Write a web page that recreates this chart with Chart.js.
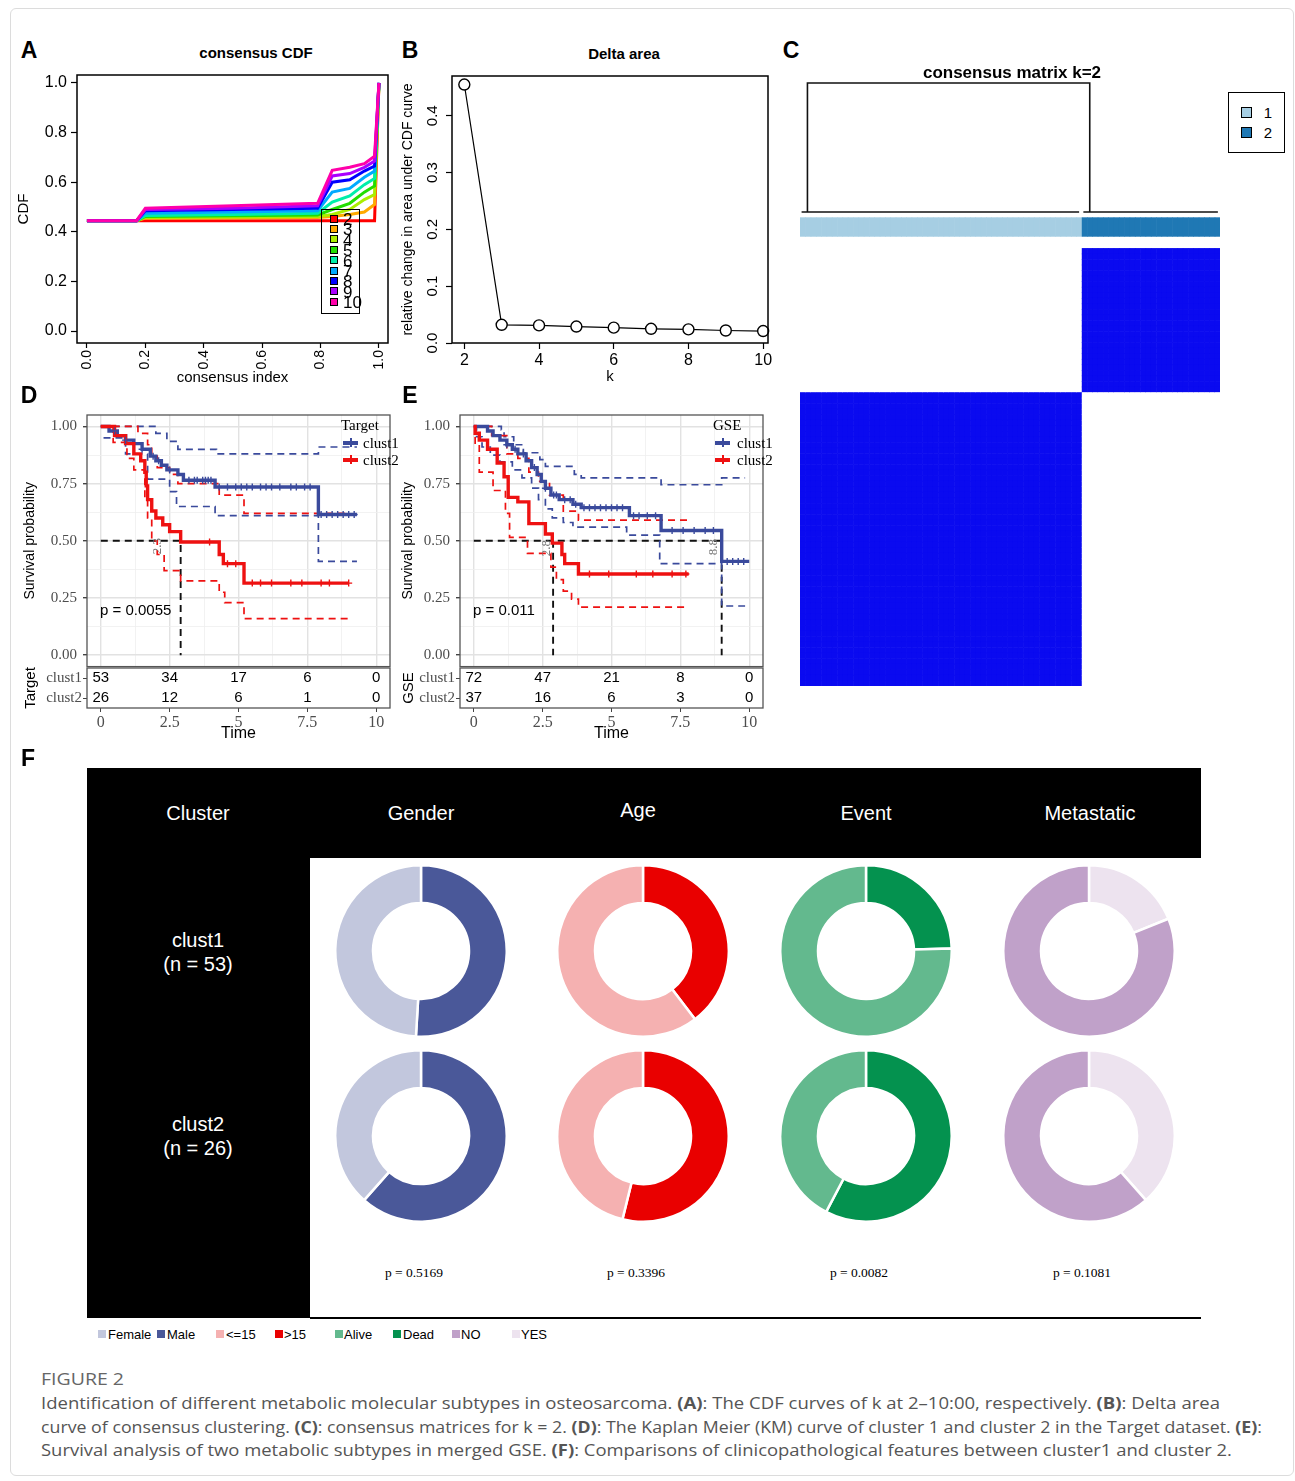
<!DOCTYPE html>
<html>
<head>
<meta charset="utf-8">
<title>Figure 2</title>
<script src="https://cdn.jsdelivr.net/npm/chart.js@4.4.1/dist/chart.umd.min.js"></script>
<style>
  html, body { margin: 0; padding: 0; background: #fff; }
  #page { position: relative; width: 1295px; height: 1481px; overflow: hidden; font-family: "Liberation Sans", Arial, sans-serif; color: #000; }
  #page canvas { position: absolute; }
  .t { position: absolute; white-space: nowrap; line-height: 1; }
  .frame { position: absolute; left: 10px; top: 8px; width: 1282px; height: 1466px; border: 1px solid #dcdcdc; border-radius: 6px; }
  .blk { position: absolute; background: #000; }
  .box { position: absolute; border: 1px solid #000; }
  .sq { position: absolute; }
</style>
</head>
<body>
<div id="page">
  <div class="frame"></div>
  <canvas id="cdf" width="380" height="324" style="left:15px;top:68px"></canvas>
  <canvas id="delta" width="380" height="324" style="left:395px;top:68px"></canvas>
  <canvas id="cons" width="420" height="607" style="left:800px;top:79px"></canvas>
  <canvas id="kmD" width="385" height="267" style="left:15px;top:405px"></canvas>
  <canvas id="riskD" width="385" height="84" style="left:15px;top:662px"></canvas>
  <canvas id="kmE" width="378" height="267" style="left:395px;top:405px"></canvas>
  <canvas id="riskE" width="378" height="84" style="left:395px;top:662px"></canvas>
</div>
<script>
// ---- A: consensus CDF ----
var cdfK = [2, 3, 4, 5, 6, 7, 8, 9, 10];
var cdfX = [0, 0.17, 0.2, 0.5, 0.79, 0.84, 0.9, 0.95, 0.985, 1.0];
var cdfY = [
  [0.445, 0.445, 0.445, 0.445, 0.445, 0.445, 0.445, 0.445, 0.445, 1.0],
  [0.445, 0.445, 0.455, 0.456, 0.458, 0.462, 0.47, 0.48, 0.51, 1.0],
  [0.445, 0.445, 0.458, 0.46, 0.462, 0.47, 0.49, 0.53, 0.55, 1.0],
  [0.445, 0.445, 0.462, 0.465, 0.468, 0.49, 0.515, 0.56, 0.585, 1.0],
  [0.445, 0.445, 0.466, 0.47, 0.475, 0.52, 0.545, 0.59, 0.615, 1.0],
  [0.445, 0.445, 0.475, 0.48, 0.485, 0.56, 0.575, 0.62, 0.645, 1.0],
  [0.445, 0.445, 0.485, 0.49, 0.495, 0.6, 0.61, 0.645, 0.665, 1.0],
  [0.445, 0.445, 0.49, 0.495, 0.505, 0.625, 0.635, 0.66, 0.685, 1.0],
  [0.445, 0.445, 0.495, 0.505, 0.515, 0.648, 0.66, 0.675, 0.705, 1.0]
];
var cdfColors = ['#ff0000', '#ffaa00', '#aaee00', '#22dd00', '#00eeaa', '#00aaff', '#0000ff', '#aa00ff', '#ff00aa'];
var cdfXTicks = [0, 0.2, 0.4, 0.6, 0.8, 1.0];

// ---- B: delta area ----
var deltaK = [2, 3, 4, 5, 6, 7, 8, 9, 10];
var deltaVal = [0.455, 0.032, 0.031, 0.029, 0.027, 0.025, 0.024, 0.022, 0.021];
var deltaXTicks = [2, 4, 6, 8, 10];
var deltaYTicks = [0, 0.1, 0.2, 0.3, 0.4];

// ---- C: consensus matrix k=2 ----
var clusterSizes = [53, 26];
var consensusBlock = [[1, 0], [0, 1]];
var clusterColors = ['#a6cee3', '#1f78b4'];
var dendroLinks = [
  [[1.4, 0], [1.4, 1], [54.5, 1], [54.5, 0]],
  [[0.3, 0], [52.5, 0]],
  [[53.3, 0], [78.6, 0]]
];

// ---- D: Target KM ----
var tgtC1 = [[0,1],[0.3,0.98],[0.6,0.96],[0.9,0.94],[1.2,0.925],[1.5,0.9],[1.8,0.87],[2.0,0.85],[2.2,0.83],[2.4,0.81],[2.8,0.79],[3.0,0.765],[4.15,0.735],[7.9,0.615],[9.3,0.615]];
var tgtC1Up = [[0,1],[2.0,0.97],[2.4,0.935],[2.8,0.9],[4.2,0.88],[7.9,0.91],[9.3,0.91]];
var tgtC1Lo = [[0.1,0.95],[0.9,0.88],[1.7,0.77],[2.5,0.715],[2.75,0.65],[4.15,0.61],[7.9,0.41],[9.3,0.41]];
var tgtC2 = [[0,1],[0.5,0.96],[0.9,0.925],[1.2,0.88],[1.45,0.85],[1.6,0.8],[1.65,0.74],[1.7,0.68],[1.85,0.63],[2.0,0.6],[2.25,0.57],[2.5,0.54],[2.9,0.495],[4.3,0.44],[4.45,0.4],[5.2,0.315],[9.0,0.315]];
var tgtC2Up = [[0,1],[1.35,0.97],[1.7,0.92],[1.85,0.87],[2.05,0.82],[2.5,0.79],[2.8,0.75],[4.3,0.7],[5.2,0.62],[9.0,0.62]];
var tgtC2Lo = [[0,1],[0.45,0.93],[0.95,0.86],[1.2,0.81],[1.6,0.68],[1.7,0.6],[1.85,0.5],[2.05,0.44],[2.3,0.37],[2.9,0.325],[4.3,0.275],[4.5,0.23],[5.2,0.16],[9.0,0.16]];
var tgtCens1 = [0.5,0.9,1.5,1.9,2.1,2.5,3.2,3.4,3.5,3.7,3.8,3.9,4.0,4.3,4.6,4.9,5.1,5.3,5.5,5.8,6.0,6.2,6.5,6.9,7.1,7.4,7.6,8.0,8.2,8.4,8.6,8.8,9.0,9.2];
var tgtCens2 = [3.95,4.6,4.9,5.5,5.8,6.2,6.9,7.3,8.0,8.3,9.0];
var tgtMedian = [[[0,0.5],[2.9,0.5],[2.9,0]]];
var tgtRisk1 = [53, 34, 17, 6, 0];
var tgtRisk2 = [26, 12, 6, 1, 0];

// ---- E: GSE KM ----
var gseC1 = [[0,1],[0.5,0.98],[0.7,0.96],[0.95,0.94],[1.2,0.92],[1.4,0.9],[1.6,0.88],[1.9,0.85],[2.1,0.82],[2.3,0.79],[2.45,0.76],[2.6,0.73],[2.8,0.7],[3.1,0.68],[3.6,0.66],[3.9,0.645],[5.65,0.61],[6.8,0.545],[9.0,0.41],[10.0,0.41]];
var gseC1Up = [[0,1],[1.0,0.985],[1.1,0.955],[1.45,0.92],[1.8,0.885],[2.4,0.855],[2.6,0.825],[3.65,0.79],[3.9,0.775],[6.8,0.745],[9.0,0.775],[9.85,0.775]];
var gseC1Lo = [[0,1],[0.1,0.955],[0.3,0.91],[0.6,0.875],[0.95,0.845],[1.4,0.81],[1.75,0.775],[2.1,0.73],[2.35,0.68],[2.6,0.64],[2.85,0.6],[3.25,0.58],[3.6,0.56],[5.55,0.525],[6.75,0.4],[9.0,0.215],[9.85,0.215]];
var gseC2 = [[0,1],[0.05,0.97],[0.2,0.94],[0.5,0.9],[0.85,0.84],[1.1,0.78],[1.25,0.69],[1.6,0.67],[2.0,0.575],[2.6,0.53],[2.85,0.49],[3.2,0.44],[3.3,0.4],[3.8,0.355],[7.8,0.355]];
var gseC2Up = [[0,1],[0.65,0.96],[1.2,0.88],[1.6,0.86],[2.0,0.8],[2.35,0.76],[2.75,0.7],[3.25,0.63],[3.8,0.59],[7.8,0.59]];
var gseC2Lo = [[0,1],[0.05,0.92],[0.2,0.8],[0.7,0.72],[1.15,0.62],[1.3,0.515],[1.95,0.445],[2.8,0.385],[3.0,0.33],[3.25,0.28],[3.55,0.245],[3.8,0.21],[7.7,0.21]];
var gseCens1 = [1.2,1.5,1.8,2.2,2.6,2.9,3.0,3.3,3.5,3.7,4.0,4.2,4.4,4.6,4.8,5.0,5.2,5.4,5.8,6.0,6.3,6.6,7.2,7.6,8.0,8.4,8.7,9.2,9.4,9.6,9.8];
var gseCens2 = [4.2,4.9,5.9,6.5,7.2,7.7];
var gseMedian = [[[0,0.5],[9.0,0.5]], [[2.88,0.5],[2.88,0]], [[9.0,0.5],[9.0,0]]];
var gseRisk1 = [72, 47, 21, 8, 0];
var gseRisk2 = [37, 16, 6, 3, 0];

var riskTimes = [0, 2.5, 5, 7.5, 10];
var riskRows = ['clust1', 'clust2'];
var kmXTicks = [0, 1.25, 2.5, 3.75, 5, 6.25, 7.5, 8.75, 10];
var kmYTicks = [0, 0.125, 0.25, 0.375, 0.5, 0.625, 0.75, 0.875, 1];

// ---- F: clinical features ----
var featNames = ['Gender', 'Age', 'Event', 'Metastatic'];
var featLevels = [['Female', 'Male'], ['<=15', '>15'], ['Alive', 'Dead'], ['NO', 'YES']];
var featClust1 = [[26, 27], [32, 21], [40, 13], [43, 10]];
var featClust2 = [[10, 16], [12, 14], [11, 15], [16, 10]];
var featColors = [['#c2c7dd', '#4a5899'], ['#f5b1b1', '#e90000'], ['#63b98e', '#04924f'], ['#c0a1c9', '#ede3ef']];
var featP = ['0.5169', '0.3396', '0.0082', '0.1081'];

var KM_BLUE = '#3a4a9c', KM_RED = '#ee1111';
var SANS = '"Liberation Sans", Arial, sans-serif';
var SERIF = '"Liberation Serif", "Times New Roman", serif';

Chart.defaults.animation = false;
Chart.defaults.responsive = false;
Chart.defaults.events = [];
Chart.defaults.color = '#000';
Chart.defaults.font.family = SANS;
Chart.defaults.plugins.legend.display = false;
Chart.defaults.plugins.tooltip.enabled = false;

var page = document.getElementById('page');

// box around the plotting area
var framePlugin = {
  id: 'frame',
  afterDraw: function (chart, args, opts) {
    if (!opts || !opts.color) return;
    var a = chart.chartArea, ctx = chart.ctx;
    ctx.save();
    ctx.strokeStyle = opts.color;
    ctx.lineWidth = opts.width || 1;
    ctx.strokeRect(a.left, a.top, a.right - a.left, a.bottom - a.top);
    ctx.restore();
  }
};
Chart.register(framePlugin);

function setTicks(values) {
  return function (scale) { scale.ticks = values.map(function (v) { return { value: v }; }); };
}
// fixed axis sizes, and no extra room for labels that stick out
function fixW(w) { return function (s) { s.width = w; s.paddingTop = 0; s.paddingBottom = 0; }; }
function fixH(h) { return function (s) { s.height = h; s.paddingLeft = 0; s.paddingRight = 0; }; }
function pts(arr) { return arr.map(function (p) { return { x: p[0], y: p[1] }; }); }
function survAt(curve, t) {
  var s = curve[0][1];
  curve.forEach(function (p) { if (p[0] <= t) s = p[1]; });
  return s;
}

function txt(s, x, y, o) {
  o = o || {};
  var d = document.createElement('div');
  d.className = 't';
  d.innerHTML = s;
  d.style.left = x + 'px';
  d.style.top = y + 'px';
  d.style.fontSize = (o.size || 15) + 'px';
  if (o.weight) d.style.fontWeight = o.weight;
  if (o.family) d.style.fontFamily = o.family;
  if (o.color) d.style.color = o.color;
  var ax = o.anchor === 'l' ? '0' : (o.anchor === 'r' ? '-100%' : '-50%');
  d.style.transform = 'translate(' + ax + ',-50%)' + (o.rot ? ' rotate(' + o.rot + 'deg)' : '');
  page.appendChild(d);
  return d;
}
function rect(cls, x, y, w, h, css) {
  var d = document.createElement('div');
  d.className = cls;
  d.style.left = x + 'px'; d.style.top = y + 'px';
  d.style.width = w + 'px'; d.style.height = h + 'px';
  if (css) Object.assign(d.style, css);
  page.appendChild(d);
  return d;
}

// ================= A =================
var cdfSets = cdfK.map(function (k, i) {
  return {
    label: String(k),
    data: cdfX.map(function (x, j) { return { x: x, y: cdfY[i][j] }; }),
    borderColor: cdfColors[i], borderWidth: 3, pointRadius: 0, tension: 0
  };
}).reverse();

new Chart(document.getElementById('cdf'), {
  type: 'line',
  data: { datasets: cdfSets },
  options: {
    layout: { padding: { top: 7, right: 7, left: 0, bottom: 0 } },
    plugins: { frame: { color: '#000', width: 1.5 } },
    scales: {
      x: {
        type: 'linear', min: -0.034, max: 1.031,
        afterBuildTicks: setTicks(cdfXTicks), afterFit: fixH(49),
        border: { display: false },
        grid: { drawOnChartArea: false, tickLength: 5, color: '#000', tickWidth: 1.2 },
        ticks: { minRotation: 90, maxRotation: 90, padding: 2, font: { size: 14 }, callback: function (v) { return v.toFixed(1); } },
        title: { display: true, text: 'consensus index', font: { size: 15 }, padding: { top: 0, bottom: 5 } }
      },
      y: {
        min: -0.048, max: 1.032,
        afterBuildTicks: setTicks(cdfXTicks), afterFit: fixW(62),
        border: { display: false },
        grid: { drawOnChartArea: false, tickLength: 6, color: '#000', tickWidth: 1.2 },
        ticks: { padding: 4, font: { size: 16 }, callback: function (v) { return v.toFixed(1); } },
        title: { display: true, text: 'CDF', font: { size: 15 }, padding: { top: 0, bottom: 0 } }
      }
    }
  }
});

// ================= B =================
var rotYTicks = {
  id: 'rotYTicks',
  afterDraw: function (chart) {
    var s = chart.scales.y, ctx = chart.ctx;
    ctx.save();
    ctx.font = '15px ' + SANS;
    ctx.fillStyle = '#000';
    ctx.textAlign = 'center';
    ctx.textBaseline = 'middle';
    s.ticks.forEach(function (t) {
      var py = s.getPixelForValue(t.value);
      ctx.save();
      ctx.translate(s.right - 19, py);
      ctx.rotate(-Math.PI / 2);
      ctx.fillText(t.value.toFixed(1), 0, 0);
      ctx.restore();
    });
    ctx.restore();
  }
};

new Chart(document.getElementById('delta'), {
  type: 'line',
  data: {
    datasets: [{
      data: deltaK.map(function (k, i) { return { x: k, y: deltaVal[i] }; }),
      borderColor: '#000', borderWidth: 1.2, tension: 0,
      pointRadius: 5.5, pointBackgroundColor: '#fff', pointBorderColor: '#000', pointBorderWidth: 1.4,
      clip: 8
    }]
  },
  plugins: [rotYTicks],
  options: {
    layout: { padding: { top: 8, right: 7, left: 0, bottom: 0 } },
    plugins: { frame: { color: '#000', width: 1.5 } },
    scales: {
      x: {
        type: 'linear', min: 1.67, max: 10.13,
        afterBuildTicks: setTicks(deltaXTicks), afterFit: fixH(49),
        border: { display: false },
        grid: { drawOnChartArea: false, tickLength: 6, color: '#000', tickWidth: 1.2 },
        ticks: { padding: 2, font: { size: 16 }, callback: function (v) { return String(v); } },
        title: { display: true, text: 'k', font: { size: 15 }, padding: { top: 0, bottom: 6 } }
      },
      y: {
        min: 0, max: 0.47,
        afterBuildTicks: setTicks(deltaYTicks), afterFit: fixW(57),
        border: { display: false },
        grid: { drawOnChartArea: false, tickLength: 6, color: '#000', tickWidth: 1.2 },
        ticks: { display: false },
        title: { display: true, text: 'relative change in area under CDF curve', font: { size: 14 }, padding: { top: 5, bottom: 0 } }
      }
    }
  }
});

// ================= C =================
var colOrder = [];
clusterSizes.forEach(function (n, ci) { for (var i = 0; i < n; i++) colOrder.push(ci); });
var rowOrder = colOrder.slice().reverse();   // image() draws rows bottom-up

function blueRamp(v) {
  var r = Math.round(255 - v * (255 - 10)), g = Math.round(255 - v * (255 - 10)), b = Math.round(255 - v * (255 - 240));
  return 'rgb(' + r + ',' + g + ',' + b + ')';
}

var consPlugin = {
  id: 'consCells',
  beforeDatasetsDraw: function (chart) {
    var xs = chart.scales.x, ys = chart.scales.y, ctx = chart.ctx;
    ctx.save();
    var barTop = ys.getPixelForValue(-5.55), barBot = ys.getPixelForValue(-2.05);
    colOrder.forEach(function (cl, c) {
      var x0 = xs.getPixelForValue(c), x1 = xs.getPixelForValue(c + 1);
      ctx.fillStyle = clusterColors[cl];
      ctx.fillRect(x0, barTop, x1 - x0 + 0.6, barBot - barTop);
      rowOrder.forEach(function (rl, r) {
        var y0 = ys.getPixelForValue(r), y1 = ys.getPixelForValue(r + 1);
        ctx.fillStyle = blueRamp(consensusBlock[rl][cl]);
        ctx.fillRect(x0, y0, x1 - x0 + 0.6, y1 - y0 + 0.6);
      });
    });
    ctx.restore();
  }
};

new Chart(document.getElementById('cons'), {
  type: 'line',
  data: {
    datasets: dendroLinks.map(function (seg) {
      return { data: pts(seg), yAxisID: 'yd', borderColor: '#111', borderWidth: 1.6, pointRadius: 0, tension: 0 };
    })
  },
  plugins: [consPlugin],
  options: {
    layout: { padding: 0 },
    scales: {
      x: { type: 'linear', min: 0, max: 79, display: false },
      y: { type: 'linear', min: -30.5, max: 79, reverse: true, display: false },
      yd: { type: 'linear', min: -3.674, max: 1.031, display: false }
    }
  }
});

// ================= D / E =================
function kmChart(id, c1, c1Up, c1Lo, c2, c2Up, c2Lo, cens1, cens2, medians, yWidth, padRight, titlePad) {
  var ds = [];
  ds.push({ data: cens2.map(function (t) { return { x: t, y: survAt(c2, t) }; }), showLine: false, pointStyle: 'cross', pointRadius: 3.5, pointBorderWidth: 1.4, pointBorderColor: KM_RED });
  ds.push({ data: cens1.map(function (t) { return { x: t, y: survAt(c1, t) }; }), showLine: false, pointStyle: 'cross', pointRadius: 3.5, pointBorderWidth: 1.4, pointBorderColor: KM_BLUE });
  ds.push({ data: pts(c2), borderColor: KM_RED, borderWidth: 3.4, stepped: 'before', pointRadius: 0 });
  ds.push({ data: pts(c1), borderColor: KM_BLUE, borderWidth: 3.4, stepped: 'before', pointRadius: 0 });
  [[c2Up, KM_RED], [c2Lo, KM_RED], [c1Up, KM_BLUE], [c1Lo, KM_BLUE]].forEach(function (p) {
    ds.push({ data: pts(p[0]), borderColor: p[1], borderWidth: 1.7, borderDash: [7, 5], stepped: 'before', pointRadius: 0 });
  });
  medians.forEach(function (m) {
    ds.push({ data: pts(m), borderColor: '#111', borderWidth: 1.9, borderDash: [7, 5], pointRadius: 0 });
  });
  return new Chart(document.getElementById(id), {
    type: 'line',
    data: { datasets: ds },
    options: {
      layout: { padding: { top: 10, right: padRight, left: 0, bottom: 0 } },
      plugins: { frame: { color: '#555', width: 1.3 } },
      scales: {
        x: {
          type: 'linear', min: -0.5, max: 10.5,
          afterBuildTicks: setTicks(kmXTicks), afterFit: fixH(0),
          border: { display: false },
          grid: {
            drawTicks: false,
            color: function (c) { return c.tick && c.tick.value % 2.5 === 0 ? '#e2e2e2' : '#efefef'; },
            lineWidth: function (c) { return c.tick && c.tick.value % 2.5 === 0 ? 1.4 : 0.8; }
          },
          ticks: { display: false }
        },
        y: {
          min: -0.05, max: 1.05,
          afterBuildTicks: setTicks(kmYTicks), afterFit: fixW(yWidth),
          border: { display: false },
          grid: {
            tickLength: 4,
            color: function (c) { return c.tick && c.tick.value % 0.25 === 0 ? '#e2e2e2' : '#efefef'; },
            lineWidth: function (c) { return c.tick && c.tick.value % 0.25 === 0 ? 1.4 : 0.8; },
            tickColor: function (c) { return c.tick && c.tick.value % 0.25 === 0 ? '#444' : 'rgba(0,0,0,0)'; }
          },
          ticks: { padding: 6, color: '#4d4d4d', font: { family: SERIF, size: 15 }, callback: function (v) { return v % 0.25 === 0 ? v.toFixed(2) : ''; } },
          title: { display: true, text: 'Survival probability', font: { size: 14 }, padding: { top: titlePad, bottom: 0 } }
        }
      }
    }
  });
}

var riskText = {
  id: 'riskText',
  afterDatasetsDraw: function (chart) {
    var ctx = chart.ctx;
    ctx.save();
    ctx.font = '15px ' + SANS;
    ctx.fillStyle = '#000';
    ctx.textAlign = 'center';
    ctx.textBaseline = 'middle';
    chart.data.datasets.forEach(function (ds, i) {
      chart.getDatasetMeta(i).data.forEach(function (el, j) { ctx.fillText(String(ds.data[j].n), el.x, el.y); });
    });
    ctx.restore();
  }
};

function riskChart(id, title, r1, r2, yWidth, padRight, titlePad) {
  var rows = [r1, r2];
  return new Chart(document.getElementById(id), {
    type: 'line',
    data: {
      datasets: rows.map(function (r, ri) {
        return { data: riskTimes.map(function (t, j) { return { x: t, y: riskRows[ri], n: r[j] }; }), showLine: false, pointRadius: 0 };
      })
    },
    plugins: [riskText],
    options: {
      layout: { padding: { top: 6, right: padRight, left: 0, bottom: 0 } },
      plugins: { frame: { color: '#555', width: 1.3 } },
      scales: {
        x: {
          type: 'linear', min: -0.5, max: 10.5,
          afterBuildTicks: setTicks(riskTimes), afterFit: fixH(38),
          border: { display: false },
          grid: { drawOnChartArea: false, tickLength: 4, color: '#444' },
          ticks: { padding: 1, color: '#4d4d4d', font: { family: SERIF, size: 16 }, callback: function (v) { return String(v); } },
          title: { display: true, text: 'Time', font: { size: 16 }, padding: { top: 0, bottom: 3 } }
        },
        y: {
          type: 'category', labels: riskRows, offset: true, afterFit: fixW(yWidth),
          border: { display: false },
          grid: { drawOnChartArea: false, tickLength: 4, color: '#444' },
          ticks: { autoSkip: false, padding: 1, color: '#4d4d4d', font: { family: SERIF, size: 15 } },
          title: { display: true, text: title, font: { size: 15 }, padding: { top: titlePad, bottom: 0 } }
        }
      }
    }
  });
}

kmChart('kmD', tgtC1, tgtC1Up, tgtC1Lo, tgtC2, tgtC2Up, tgtC2Lo, tgtCens1, tgtCens2, tgtMedian, 72, 10, 7);
riskChart('riskD', 'Target', tgtRisk1, tgtRisk2, 72, 10, 7);
kmChart('kmE', gseC1, gseC1Up, gseC1Lo, gseC2, gseC2Up, gseC2Lo, gseCens1, gseCens2, gseMedian, 65, 10, 5);
riskChart('riskE', 'GSE', gseRisk1, gseRisk2, 65, 10, 5);

// ================= F =================
rect('blk', 87, 768, 1114, 90);
rect('blk', 87, 858, 223, 460);
rect('blk', 310, 1317, 891, 1.5);

var donutCx = [421, 643, 866, 1089];
var donutCy = [951, 1136];
featNames.forEach(function (name, fi) {
  [featClust1[fi], featClust2[fi]].forEach(function (counts, ri) {
    var cv = document.createElement('canvas');
    cv.width = 174; cv.height = 174;
    cv.style.left = (donutCx[fi] - 87) + 'px';
    cv.style.top = (donutCy[ri] - 87) + 'px';
    page.appendChild(cv);
    new Chart(cv, {
      type: 'doughnut',
      data: {
        labels: featLevels[fi].slice().reverse(),
        datasets: [{
          data: counts.slice().reverse(),
          backgroundColor: featColors[fi].slice().reverse(),
          borderColor: '#fff', borderWidth: 2.5
        }]
      },
      options: { cutout: '56%', layout: { padding: 0 } }
    });
  });
  txt('p = ' + featP[fi], donutCx[fi] - 7, 1273, { family: SERIF, size: 13.5 });
});

// ================= text =================
var L = { size: 23, weight: 'bold' };
txt('A', 29, 50, L); txt('B', 410, 50, L); txt('C', 791, 50, L);
txt('D', 29, 395, L); txt('E', 410, 395, L); txt('F', 28, 758, L);

txt('consensus CDF', 256, 52, { size: 15, weight: 'bold' });
txt('Delta area', 624, 53, { size: 15, weight: 'bold' });
txt('consensus matrix k=2', 1012, 72, { size: 17, weight: 'bold' });

// A legend
rect('box', 321, 209, 37, 103);
cdfK.forEach(function (k, i) {
  var y = 218 + i * 10.4;
  rect('sq', 330, y - 3.5, 6, 6, { background: cdfColors[i], border: '1px solid #000' });
  txt(String(k), 343, y + 1, { size: 17, anchor: 'l' });
});

// C legend
rect('box', 1228, 92, 55, 59);
clusterColors.forEach(function (c, i) {
  var y = 112 + i * 20;
  rect('sq', 1241, y - 5, 9, 9, { background: c, border: '1px solid #000' });
  txt(String(i + 1), 1268, y, { size: 15 });
});

// KM legends
function kmLegend(title, x, tx) {
  txt(title, x, 425, { family: SERIF, size: 15, anchor: 'l' });
  [[KM_BLUE, 'clust1', 443], [KM_RED, 'clust2', 460]].forEach(function (r) {
    rect('sq', x + 2, r[2] - 2, 15, 4, { background: r[0] });
    rect('sq', x + 9, r[2] - 5, 1.5, 9, { background: r[0] });
    txt(r[1], tx, r[2], { family: SERIF, size: 15, anchor: 'l' });
  });
}
kmLegend('Target', 341, 363);
kmLegend('GSE', 713, 737);

txt('p = 0.0055', 100, 609, { size: 15, anchor: 'l' });
txt('p = 0.011', 473, 609, { size: 15, anchor: 'l' });
txt('2.3', 156, 546, { family: SERIF, size: 13, color: '#777', rot: -90 });
txt('2.8', 545, 548, { family: SERIF, size: 13, color: '#777', rot: -90 });
txt('8.8', 712, 547, { family: SERIF, size: 13, color: '#777', rot: -90 });

// F headers
var hdrX = [421, 638, 866, 1090];
txt('Cluster', 198, 813, { size: 20, color: '#fff' });
featNames.forEach(function (n, i) { txt(n, hdrX[i], i === 1 ? 810 : 813, { size: 20, color: '#fff' }); });
txt('clust1', 198, 940, { size: 20, color: '#fff' });
txt('(n = 53)', 198, 964, { size: 20, color: '#fff' });
txt('clust2', 198, 1124, { size: 20, color: '#fff' });
txt('(n = 26)', 198, 1148, { size: 20, color: '#fff' });

// F legend
var legSq = [[98, 108], [157, 167], [216, 226], [275, 284], [335, 344], [393, 403], [452, 461], [512, 521]];
var li = 0;
featLevels.forEach(function (lv, fi) {
  lv.forEach(function (name, k) {
    var p = legSq[li++];
    rect('sq', p[0], 1330, 8, 8, { background: featColors[fi][k] });
    txt(name.replace('<', '&lt;').replace('>', '&gt;'), p[1], 1334, { size: 13, anchor: 'l' });
  });
});

// caption
var CAP = '"Open Sans", "Noto Sans", sans-serif';
var fig = txt('FIGURE 2', 41, 1378, { family: CAP, size: 17, color: '#666', anchor: 'l' });
var capLines = [
  ['Identification of different metabolic molecular subtypes in osteosarcoma. <b>(A)</b>: The CDF curves of k at 2–10:00, respectively. <b>(B)</b>: Delta area', 1403, 1179],
  ['curve of consensus clustering. <b>(C)</b>: consensus matrices for k = 2. <b>(D)</b>: The Kaplan Meier (KM) curve of cluster 1 and cluster 2 in the Target dataset. <b>(E)</b>:', 1427, 1221],
  ['Survival analysis of two metabolic subtypes in merged GSE. <b>(F)</b>: Comparisons of clinicopathological features between cluster1 and cluster 2.', 1450, 1191]
];
function fitWidth(el, target) {
  var w = el.getBoundingClientRect().width;
  el.style.transformOrigin = '0 50%';
  el.style.transform = 'translate(0,-50%) scaleX(' + (target / w).toFixed(4) + ')';
}
fitWidth(fig, 83);
capLines.forEach(function (c) {
  var el = txt(c[0], 41, c[1], { family: CAP, size: 16.5, color: '#555', anchor: 'l' });
  fitWidth(el, c[2]);
});
</script>
</body>
</html>
